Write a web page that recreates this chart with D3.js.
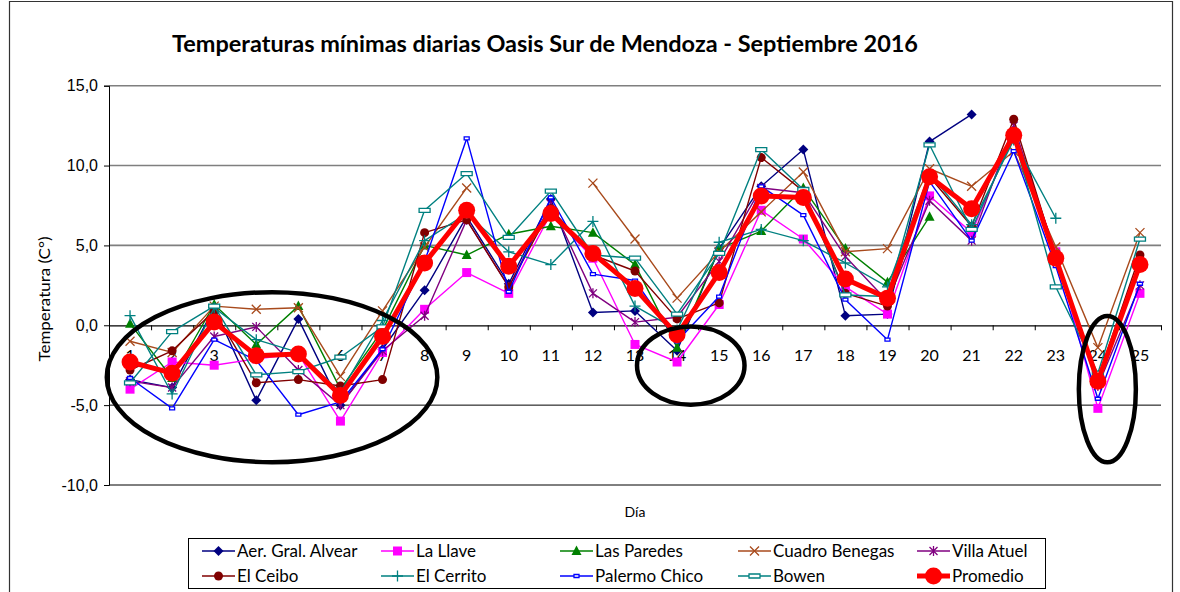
<!DOCTYPE html>
<html>
<head>
<meta charset="utf-8">
<script src="https://cdn.jsdelivr.net/npm/d3@7"></script>
<style>
  body { margin: 0; background: #fff; }
  svg { display: block; font-family: Lato, "Open Sans", sans-serif; }
</style>
</head>
<body>
<svg id="chart"></svg>
<script>
let width = 1180;
let height = 592;

// data (°C), null = no reading
let days = d3.range(1, 26);
let yTicks = [15, 10, 5, 0, -5, -10];

let aerGralAlvear = [-3.4, -3.9, 1.1, -4.7, 0.4, -5.0, -1.5, 2.2, 6.8, 2.6, 7.9, 0.8, 0.9, -1.6, 4.8, 8.7, 11.0, 0.6, 0.7, 11.5, 13.2, null, null, null, null];
let laLlave = [-4.0, -2.3, -2.5, -2.1, -1.8, -6.0, -1.7, 1.0, 3.3, 2.0, 7.0, 4.2, -1.2, -2.3, 1.3, 7.2, 5.4, 2.4, 0.7, 8.1, 5.8, 12.0, 4.6, -5.2, 2.0];
let lasParedes = [0.1, -3.3, 1.3, -1.2, 1.2, -4.0, -0.3, 5.0, 4.4, 5.7, 6.2, 5.8, 3.8, -1.4, 4.8, 5.9, 8.6, 4.8, 2.7, 6.8, null, null, null, null, null];
let cuadroBenegas = [-1.0, -1.7, 1.2, 1.0, 1.1, -3.2, 0.9, 4.9, 8.6, null, null, 8.9, 5.4, 1.7, 4.6, 7.1, 9.6, 4.6, 4.8, 9.8, 8.7, 10.9, 4.9, -1.4, 5.8];
let villaAtuel = [-3.5, -3.9, -0.7, -0.1, -2.8, -5.0, -1.6, 0.6, 6.6, 2.4, 7.6, 2.0, 0.2, 0.5, 4.0, 8.6, 8.3, 4.3, 1.5, 7.8, 5.3, 12.5, 4.4, -3.8, 2.5];
let elCeibo = [-2.8, -1.6, 0.9, -3.6, -3.4, -3.8, -3.4, 5.8, 6.6, 2.4, 7.3, 4.4, 3.4, 0.4, 1.4, 10.5, 8.4, 2.0, 1.2, 9.3, 6.2, 12.9, 4.3, -3.3, 4.4];
let elCerrito = [0.6, -4.3, 1.1, -0.9, -1.7, -4.2, 0.3, 5.3, 7.0, 4.6, 3.8, 6.5, 1.2, -0.3, 5.2, 6.0, 5.3, 3.9, 2.4, 9.5, 6.3, 11.6, 6.7, null, null];
let palermoChico = [-3.3, -5.2, -0.9, -2.2, -5.6, -4.8, -1.5, 4.0, 11.7, 2.1, 8.0, 3.2, 2.8, -1.0, 1.8, 8.7, 6.9, 1.6, -0.9, 9.0, 5.3, 10.9, 3.7, -4.6, 2.6];
let bowen = [-3.6, -0.4, 1.2, -3.1, -2.9, -2.0, -0.1, 7.2, 9.5, 5.5, 8.4, 4.4, 4.2, 0.7, 4.5, 11.0, 8.5, 1.9, 1.8, 11.3, 6.0, 11.8, 2.4, -3.0, 5.4];
let promedio = [-2.3, -3.0, 0.2, -1.9, -1.8, -4.4, -0.7, 3.9, 7.2, 3.7, 7.0, 4.5, 2.3, -0.6, 3.3, 8.1, 8.0, 2.9, 1.7, 9.3, 7.3, 11.9, 4.2, -3.5, 3.8];

// hand-drawn highlights: day range and temperature range covered
let highlights = [
  { dayFrom: 0.4, dayTo: 8.35, tempFrom: 2.2, tempTo: -8.7 },
  { dayFrom: 13.0, dayTo: 15.65, tempFrom: 0.05, tempTo: -5.1 },
  { dayFrom: 23.5, dayTo: 24.95, tempFrom: 0.7, tempTo: -8.7 }
];

let series = [
  { name: 'Aer. Gral. Alvear', values: aerGralAlvear, color: '#000080', marker: 'diamond' },
  { name: 'La Llave', values: laLlave, color: '#ff00ff', marker: 'square' },
  { name: 'Las Paredes', values: lasParedes, color: '#008000', marker: 'triangle' },
  { name: 'Cuadro Benegas', values: cuadroBenegas, color: '#a84a1c', marker: 'times' },
  { name: 'Villa Atuel', values: villaAtuel, color: '#800080', marker: 'asterisk' },
  { name: 'El Ceibo', values: elCeibo, color: '#800000', marker: 'circle' },
  { name: 'El Cerrito', values: elCerrito, color: '#008080', marker: 'plus' },
  { name: 'Palermo Chico', values: palermoChico, color: '#0000ff', marker: 'dash' },
  { name: 'Bowen', values: bowen, color: '#008080', marker: 'bar' },
  { name: 'Promedio', values: promedio, color: '#ff0000', marker: 'big' }
];

let markerPaths = {
  diamond: 'M0,-5L5,0L0,5L-5,0Z',
  square: 'M-4.5,-4.5h9v9h-9Z',
  triangle: 'M0,-5.5L5,4L-5,4Z',
  times: 'M-4.5,-4.5L4.5,4.5M-4.5,4.5L4.5,-4.5',
  asterisk: 'M-4,-4L4,4M-4,4L4,-4M0,-5V5',
  plus: 'M-5.5,0H5.5M0,-5.5V5.5',
  dash: 'M-2.5,-1.5h5v3h-5Z',
  bar: 'M-5.5,-2h11v4h-11Z'
};

let svg = d3.select('#chart')
  .attr('width', width)
  .attr('height', height);

let xScale = d3.scaleLinear()
  .domain([0.5, 25.5])
  .range([109, 1161]);

let yScale = d3.scaleLinear()
  .domain([-10, 15])
  .range([485, 85.7]);

// outer chart frame
svg.append('path')
  .attr('d', 'M9.5,592V1.5H1172.5V592')
  .attr('fill', 'none')
  .attr('stroke', '#333')
  .attr('stroke-width', 1.2);

// title
svg.append('text')
  .attr('x', 545)
  .attr('y', 52)
  .attr('text-anchor', 'middle')
  .attr('font-size', 23)
  .attr('font-weight', 'bold')
  .attr('textLength', 746)
  .attr('lengthAdjust', 'spacingAndGlyphs')
  .text('Temperaturas mínimas diarias Oasis Sur de Mendoza - Septiembre 2016');

// horizontal gridlines
svg.append('g')
  .selectAll('line')
  .data(yTicks.filter(d => d !== 0))
  .enter()
  .append('line')
    .attr('x1', xScale(0.5))
    .attr('x2', xScale(25.5))
    .attr('y1', d => yScale(d))
    .attr('y2', d => yScale(d))
    .attr('stroke', d => d > 0 ? '#7f7f7f' : '#000')
    .attr('stroke-width', d => d > 0 ? 1.6 : 1);

// y axis
svg.append('g')
    .attr('transform', `translate(${xScale(0.5)}, 0)`)
    .attr('font-family', 'Lato, "Open Sans", sans-serif')
  .call(d3.axisLeft(yScale)
    .tickValues(yTicks)
    .tickSize(5)
    .tickPadding(6)
    .tickFormat(d => d3.format('.1f')(d).replace('.', ',').replace('−', '-')))
  .call(g => g.selectAll('text').attr('font-size', 16).attr('fill', '#000'))
  .call(g => g.select('.domain').attr('stroke', '#000'));

// category axis crossing at 0
svg.append('g')
    .attr('transform', `translate(0, ${yScale(0)})`)
  .call(d3.axisBottom(xScale)
    .tickValues(d3.range(0.5, 26, 1))
    .tickSize(5)
    .tickSizeOuter(0)
    .tickFormat(''))
  .call(g => g.select('.domain').attr('stroke', '#000').attr('stroke-width', 1.2));

svg.append('g')
  .selectAll('text')
  .data(days)
  .enter()
  .append('text')
    .attr('x', d => xScale(d))
    .attr('y', yScale(0) + 36)
    .attr('text-anchor', 'middle')
    .attr('font-size', 16)
    .text(d => d);

// axis titles
svg.append('text')
  .attr('x', xScale(13))
  .attr('y', 517)
  .attr('text-anchor', 'middle')
  .attr('font-size', 14)
  .text('Día');

svg.append('text')
  .attr('transform', 'translate(50, 299) rotate(-90)')
  .attr('text-anchor', 'middle')
  .attr('font-size', 15)
  .attr('textLength', 125)
  .attr('lengthAdjust', 'spacingAndGlyphs')
  .text('Temperatura (C°)');

// series
let line = d3.line()
  .defined(d => d != null)
  .x((d, i) => xScale(days[i]))
  .y(d => yScale(d));

function drawMarker(sel, s) {
  if (s.marker === 'circle') {
    sel.append('circle').attr('r', 4.5).attr('fill', s.color);
  } else if (s.marker === 'big') {
    sel.append('circle').attr('r', 8.5).attr('fill', s.color);
  } else if (['times', 'asterisk', 'plus'].includes(s.marker)) {
    sel.append('path').attr('d', markerPaths[s.marker])
      .attr('fill', 'none').attr('stroke', s.color).attr('stroke-width', 1.3);
  } else if (s.marker === 'dash' || s.marker === 'bar') {
    sel.append('path').attr('d', markerPaths[s.marker])
      .attr('fill', '#fff').attr('stroke', s.color).attr('stroke-width', 1.3);
  } else {
    sel.append('path').attr('d', markerPaths[s.marker]).attr('fill', s.color);
  }
}

series.forEach(s => {
  let isAvg = s.marker === 'big';
  let g = svg.append('g');
  g.append('path')
    .datum(s.values)
    .attr('d', line)
    .attr('fill', 'none')
    .attr('stroke', s.color)
    .attr('stroke-width', isAvg ? 5 : 1.4)
    .attr('stroke-linejoin', 'round');

  g.selectAll('.pt')
    .data(s.values.map((v, i) => ({ day: days[i], v })).filter(d => d.v != null))
    .enter()
    .append('g')
      .attr('transform', d => `translate(${xScale(d.day)}, ${yScale(d.v)})`)
      .each(function () { drawMarker(d3.select(this), s); });
});

// highlight ellipses
svg.append('g')
  .selectAll('ellipse')
  .data(highlights)
  .enter()
  .append('ellipse')
    .attr('cx', d => (xScale(d.dayFrom) + xScale(d.dayTo)) / 2)
    .attr('cy', d => (yScale(d.tempFrom) + yScale(d.tempTo)) / 2)
    .attr('rx', d => (xScale(d.dayTo) - xScale(d.dayFrom)) / 2 - 2)
    .attr('ry', d => (yScale(d.tempTo) - yScale(d.tempFrom)) / 2 - 2)
    .attr('fill', 'none')
    .attr('stroke', '#000')
    .attr('stroke-width', 4.5);

// legend
let legendCols = [202, 381, 560, 738, 917];
let legendRows = [551, 576];

svg.append('rect')
  .attr('x', 188.5)
  .attr('y', 538.5)
  .attr('width', 857)
  .attr('height', 50)
  .attr('fill', '#fff')
  .attr('stroke', '#000');

let legend = svg.append('g')
  .selectAll('g')
  .data(series)
  .enter()
  .append('g')
    .attr('transform', (d, i) => `translate(${legendCols[i % 5]}, ${legendRows[Math.floor(i / 5)]})`);

legend.append('line')
  .attr('x1', 0)
  .attr('x2', 33)
  .attr('stroke', d => d.color)
  .attr('stroke-width', d => d.marker === 'big' ? 5 : 1.4);

legend.append('g')
  .attr('transform', 'translate(16.5, 0)')
  .each(function (d) { drawMarker(d3.select(this), d); });

legend.append('text')
  .attr('x', 35)
  .attr('y', 6)
  .attr('font-size', 17)
  .text(d => d.name);
</script>
</body>
</html>
